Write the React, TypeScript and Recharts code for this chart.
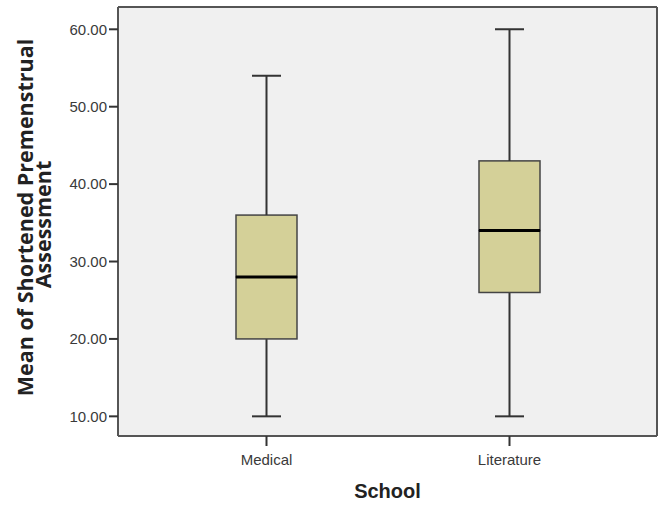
import { ComposedChart, Bar, XAxis, YAxis, CartesianGrid } from 'recharts';

const schools = ['Medical', 'Literature'];
const minimum = [10, 10];
const lowerQuartile = [20, 26];
const median = [28, 34];
const upperQuartile = [36, 43];
const maximum = [54, 60];
const yTicks = [10, 20, 30, 40, 50, 60];

const Y_MIN = 7.46;
const Y_MAX = 62.88;

const data = schools.map((school, i) => ({
  school,
  base: minimum[i],
  lowWhisker: lowerQuartile[i] - minimum[i],
  lowBox: median[i] - lowerQuartile[i],
  highBox: upperQuartile[i] - median[i],
  highWhisker: maximum[i] - upperQuartile[i],
}));

const BOX_FILL = '#d4d098';
const LINE = '#333333';
const FRAME = '#555555';
const CAP = 29;

const Empty = () => null;

const LowWhisker = (props: any) => {
  const { x, y, width, height } = props;
  const cx = x + width / 2;
  return (
    <g>
      <line x1={cx} x2={cx} y1={y} y2={y + height} stroke={LINE} strokeWidth={2} />
      <line x1={cx - CAP / 2} x2={cx + CAP / 2} y1={y + height} y2={y + height} stroke={LINE} strokeWidth={2} />
    </g>
  );
};

const HighWhisker = (props: any) => {
  const { x, y, width, height } = props;
  const cx = x + width / 2;
  return (
    <g>
      <line x1={cx} x2={cx} y1={y} y2={y + height} stroke={LINE} strokeWidth={2} />
      <line x1={cx - CAP / 2} x2={cx + CAP / 2} y1={y} y2={y} stroke={LINE} strokeWidth={2} />
    </g>
  );
};

const LowBox = (props: any) => {
  const { x, y, width, height } = props;
  return <rect x={x} y={y} width={width} height={height} fill={BOX_FILL} stroke="#444" strokeWidth={1.5} />;
};

const HighBox = (props: any) => {
  const { x, y, width, height } = props;
  return (
    <g>
      <rect x={x} y={y} width={width} height={height} fill={BOX_FILL} stroke="#444" strokeWidth={1.5} />
      <line x1={x} x2={x + width} y1={y + height} y2={y + height} stroke="#000" strokeWidth={3} />
    </g>
  );
};

const YLabel = (props: any) => {
  const vb = props.viewBox || {};
  const cy = vb.y + vb.height / 2;
  const style = { fontFamily: '"Open Sans", sans-serif', fontWeight: 700, fontSize: 21.5, fill: '#222' };
  return (
    <g>
      <text x={33} y={cy - 4} transform={`rotate(-90, 33, ${cy - 4})`} textAnchor="middle" style={style}>
        Mean of Shortened Premenstrual
      </text>
      <text x={51} y={cy + 3} transform={`rotate(-90, 51, ${cy + 3})`} textAnchor="middle" style={style}>
        Assessment
      </text>
    </g>
  );
};

const XLabel = (props: any) => {
  const vb = props.viewBox || {};
  return (
    <text
      x={vb.x + vb.width / 2}
      y={498}
      textAnchor="middle"
      style={{ fontFamily: '"Liberation Sans", Arial, sans-serif', fontWeight: 700, fontSize: 20, fill: '#222' }}
    >
      School
    </text>
  );
};

const tickStyle = { fontFamily: '"Liberation Sans", Arial, sans-serif', fontSize: 15, fill: '#3a3a3a' };

export default function App() {
  return (
    <div style={{ position: 'absolute', left: 0, top: 0, width: 665, height: 506, background: '#fff' }}>
      <ComposedChart width={665} height={506} data={data} margin={{ top: 6, right: 7, bottom: 30, left: 0 }} barSize={61}>
        <CartesianGrid horizontal={false} vertical={false} fill="#f0f0f0" />
        <XAxis
          dataKey="school"
          padding={{ left: 27, right: 26 }}
          height={40}
          tick={tickStyle}
          tickSize={10}
          tickMargin={8}
          tickLine={{ stroke: LINE, strokeWidth: 2 }}
          axisLine={{ stroke: FRAME, strokeWidth: 2 }}
          label={<XLabel />}
        />
        <XAxis
          xAxisId="top"
          orientation="top"
          dataKey="school"
          height={1}
          tick={false}
          tickLine={false}
          axisLine={{ stroke: FRAME, strokeWidth: 2 }}
        />
        <YAxis
          type="number"
          domain={[Y_MIN, Y_MAX]}
          allowDataOverflow
          ticks={yTicks}
          tickFormatter={(v: number) => v.toFixed(2)}
          width={118}
          tick={tickStyle}
          tickSize={9}
          tickMargin={2}
          tickLine={{ stroke: LINE, strokeWidth: 2 }}
          axisLine={{ stroke: FRAME, strokeWidth: 2 }}
          label={<YLabel />}
        />
        <YAxis
          yAxisId="right"
          orientation="right"
          type="number"
          domain={[Y_MIN, Y_MAX]}
          allowDataOverflow
          width={1}
          tick={false}
          tickLine={false}
          axisLine={{ stroke: FRAME, strokeWidth: 2 }}
        />
        <Bar dataKey="base" xAxisId="top" yAxisId="right" shape={<Empty />} isAnimationActive={false} />
        <Bar dataKey="base" stackId="box" shape={<Empty />} isAnimationActive={false} />
        <Bar dataKey="lowWhisker" stackId="box" shape={<LowWhisker />} isAnimationActive={false} />
        <Bar dataKey="lowBox" stackId="box" shape={<LowBox />} isAnimationActive={false} />
        <Bar dataKey="highBox" stackId="box" shape={<HighBox />} isAnimationActive={false} />
        <Bar dataKey="highWhisker" stackId="box" shape={<HighWhisker />} isAnimationActive={false} />
      </ComposedChart>
    </div>
  );
}
